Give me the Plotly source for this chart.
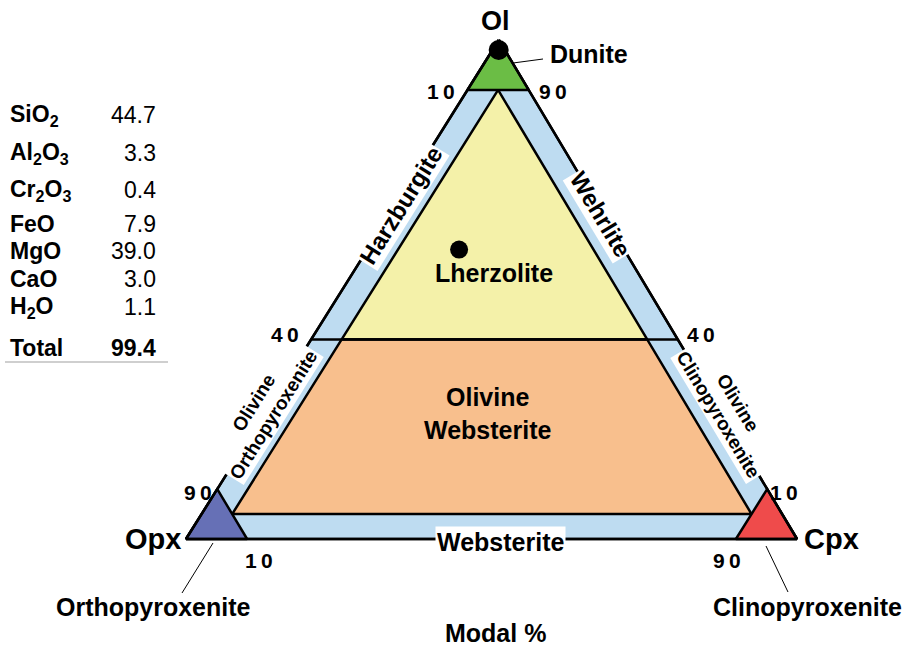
import plotly.graph_objects as go

W, H = 904, 650

# ---------------- data ----------------
oxide_labels = ["SiO<sub>2</sub>", "Al<sub>2</sub>O<sub>3</sub>", "Cr<sub>2</sub>O<sub>3</sub>",
                "FeO", "MgO", "CaO", "H<sub>2</sub>O", "Total"]
oxide_wt = [44.7, 3.3, 0.4, 7.9, 39.0, 3.0, 1.1, 99.4]

# field polygons, vertices as (Ol, Opx, Cpx) modal %
outer_field = [(100, 0, 0), (0, 100, 0), (0, 0, 100)]
lherzolite_field = [(90, 5, 5), (40, 55, 5), (40, 5, 55)]
ol_websterite_field = [(40, 55, 5), (5, 90, 5), (5, 5, 90), (40, 5, 55)]
dunite_field = [(100, 0, 0), (90, 10, 0), (90, 0, 10)]
orthopyroxenite_field = [(0, 100, 0), (10, 90, 0), (0, 90, 10)]
clinopyroxenite_field = [(0, 0, 100), (10, 0, 90), (0, 10, 90)]
ol40_line = [(40, 60, 0), (40, 0, 60)]

# plotted compositions
sample_ol = [98, 58]
sample_opx = [1, 27]
sample_cpx = [1, 15]

# ---------------- layout geometry ----------------
BASE_L, BASE_R, BASE_Y, APEX_Y = 186, 797, 539, 40
APEX_FRAC = 0.512
SX = BASE_R - BASE_L
SY = BASE_Y - APEX_Y
X_RANGE = [-BASE_L / SX, (W - BASE_L) / SX]
Y_RANGE = [-(H - BASE_Y) / SY, BASE_Y / SY]

FONT = "Arial, Liberation Sans, sans-serif"


def tern_xy(ol, opx, cpx):
    tot = ol + opx + cpx
    return (cpx + ol * APEX_FRAC) / tot, ol / tot


def poly(pts, close=True):
    xs, ys = [], []
    for o, p, c in pts:
        x, y = tern_xy(o, p, c)
        xs.append(x)
        ys.append(y)
    if close:
        xs.append(xs[0])
        ys.append(ys[0])
    return xs, ys


fig = go.Figure()


def add_field(pts, fill, lw=2.5):
    xs, ys = poly(pts)
    fig.add_trace(go.Scatter(x=xs, y=ys, mode="lines", fill="toself", fillcolor=fill,
                             line=dict(color="black", width=lw), hoverinfo="skip"))


add_field(outer_field, "#bedcf1")
add_field(lherzolite_field, "#f4f1a9")
add_field(ol_websterite_field, "#f8bf8d")
xs, ys = poly(ol40_line, close=False)
fig.add_trace(go.Scatter(x=xs, y=ys, mode="lines", line=dict(color="black", width=2.5), hoverinfo="skip"))
add_field(dunite_field, "#6bbd45")
add_field(orthopyroxenite_field, "#6670b6")
add_field(clinopyroxenite_field, "#ef4b4b")
xs, ys = poly(outer_field)
fig.add_trace(go.Scatter(x=xs, y=ys, mode="lines", line=dict(color="black", width=2.5), hoverinfo="skip"))

sx, sy = [], []
for o, p, c in zip(sample_ol, sample_opx, sample_cpx):
    x, y = tern_xy(o, p, c)
    sx.append(x)
    sy.append(y)
fig.add_trace(go.Scatter(x=sx, y=sy, mode="markers", opacity=1,
                         marker=dict(color="#000000", size=[20, 18], opacity=1,
                                     line=dict(width=0, color="#000000")),
                         hoverinfo="skip"))


# ---------------- text ----------------
def px(x, y):
    return x / W, 1 - y / H


annots = []


def ann(text, x, y, size, bold=True, angle=0, bg=None, xanchor="center", color="black"):
    xp, yp = px(x, y)
    t = f"<b>{text}</b>" if bold else text
    d = dict(text=t, x=xp, y=yp, xref="paper", yref="paper", showarrow=False,
             xanchor=xanchor, yanchor="middle", textangle=angle,
             font=dict(family=FONT, size=size, color=color))
    if bg:
        d.update(bgcolor=bg, borderpad=1)
    annots.append(d)


# table
row_y = [115, 153, 190, 224, 251, 279, 307, 348]
for lab, val, yy in zip(oxide_labels, oxide_wt, row_y):
    ann(lab, 8, yy, 23, bold=True, xanchor="left")
    ann(f"{val:.1f}", 158, yy, 23, bold=(lab == "Total"), xanchor="right")

# apices
ann("Ol", 496, 21, 27)
ann("Opx", 183, 539, 29, xanchor="right")
ann("Cpx", 802, 539, 29, xanchor="left")

# end-member names
ann("Dunite", 548, 54, 25, xanchor="left")
ann("Orthopyroxenite", 153, 607, 25)
ann("Clinopyroxenite", 807, 607, 25)
ann("Modal %", 496, 633, 25)

# field names
ann("Lherzolite", 494, 273, 25)
ann("Olivine<br>Websterite", 488, 413, 25)
ann("Harzburgite", 401, 206, 24, angle=-58, bg="white")
ann("Wehrlite", 601, 214, 24, angle=59, bg="white")
ann("Olivine", 253, 403, 19, angle=-58)
ann("Orthopyroxenite", 274, 415, 19, angle=-58, bg="white")
ann("Olivine", 738, 402, 19, angle=59)
ann("Clinopyroxenite", 718, 415, 19, angle=59, bg="white")
ann("Websterite", 500, 542, 25, bg="white")

# tick numbers (drawn last, on top)
HS = "\u2009"
ann(f"1{HS}0", 441, 92, 21)
ann(f"9{HS}0", 553, 92, 21)
ann(f"4{HS}0", 285, 335, 21)
ann(f"4{HS}0", 701, 335, 21)
ann(f"9{HS}0", 198, 492, 21)
ann(f"1{HS}0", 259, 560, 21)
ann(f"1{HS}0", 784, 492, 21)
ann(f"9{HS}0", 727, 560, 21)

shapes = []


def seg(x0, y0, x1, y1, color="black", width=1):
    a, b = px(x0, y0)
    c, d = px(x1, y1)
    shapes.append(dict(type="line", xref="paper", yref="paper", x0=a, y0=b, x1=c, y1=d,
                       line=dict(color=color, width=width)))


seg(513, 63, 543, 59)
seg(213, 543, 182, 593)
seg(766, 546, 788, 592)
seg(5, 362, 168, 362, color="#a0a0a0", width=1.2)

fig.update_layout(
    width=W, height=H,
    margin=dict(l=0, r=0, t=0, b=0),
    paper_bgcolor="white", plot_bgcolor="white",
    showlegend=False,
    xaxis=dict(range=X_RANGE, visible=False, fixedrange=True),
    yaxis=dict(range=Y_RANGE, visible=False, fixedrange=True),
    annotations=annots,
    shapes=shapes,
)

fig.write_html("out.html", config={"displayModeBar": False},
               post_script="document.body.style.margin='0';document.body.style.overflow='hidden';")
